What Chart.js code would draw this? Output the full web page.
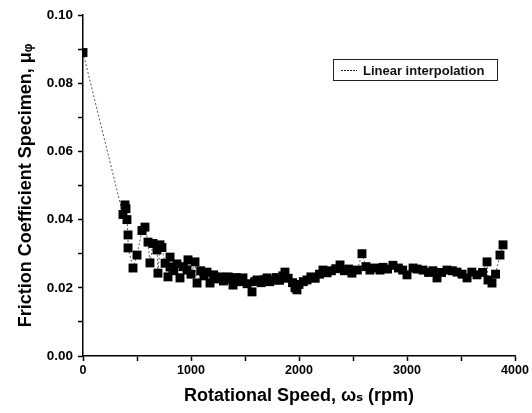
<!DOCTYPE html>
<html>
<head>
<meta charset="utf-8">
<script src="https://cdn.jsdelivr.net/npm/chart.js@4.4.0/dist/chart.umd.min.js"></script>
<style>
  body { margin: 0; background: #fff; }
  #wrap { width: 532px; height: 413px; }
</style>
</head>
<body>
<div id="wrap"><canvas id="Chart" width="532" height="413"></canvas></div>
<script>
// rotational speed (rpm) and friction coefficient
var rpm = [0, 370, 389, 398, 407, 417, 417, 463, 500, 546, 574, 602, 620, 648, 685, 694, 713, 731, 760, 787,
    806, 806, 840, 870, 898, 930, 963, 972, 1000, 1037, 1056, 1090, 1120, 1148, 1176, 1210, 1240, 1269, 1300, 1343,
    1370, 1389, 1420, 1450, 1481, 1520, 1565, 1590, 1611, 1650, 1680, 1704, 1730, 1759, 1790, 1820, 1850, 1870, 1900, 1940,
    1963, 1981, 2000, 2040, 2074, 2110, 2150, 2190, 2222, 2260, 2300, 2340, 2380, 2420, 2460, 2490, 2540, 2583, 2620, 2657,
    2700, 2750, 2778, 2820, 2870, 2920, 2960, 3000, 3056, 3093, 3148, 3200, 3240, 3278, 3320, 3370, 3420, 3463, 3510, 3556,
    3600, 3648, 3700, 3741, 3750, 3787, 3820, 3861, 3889];
var mu = [0.0890, 0.0415, 0.0443, 0.0432, 0.0400, 0.0355, 0.0317, 0.0258, 0.0296, 0.0368, 0.0378, 0.0334, 0.0273, 0.0330, 0.0311, 0.0243, 0.0326, 0.0318, 0.0272, 0.0232,
    0.0290, 0.0261, 0.0250, 0.0270, 0.0229, 0.0262, 0.0252, 0.0282, 0.0240, 0.0276, 0.0214, 0.0250, 0.0235, 0.0246, 0.0214, 0.0238, 0.0226, 0.0232, 0.0220, 0.0232,
    0.0225, 0.0208, 0.0230, 0.0218, 0.0229, 0.0212, 0.0188, 0.0218, 0.0223, 0.0215, 0.0224, 0.0229, 0.0218, 0.0223, 0.0230, 0.0222, 0.0235, 0.0246, 0.0228, 0.0215,
    0.0200, 0.0194, 0.0210, 0.0218, 0.0223, 0.0232, 0.0228, 0.0240, 0.0252, 0.0244, 0.0250, 0.0256, 0.0267, 0.0250, 0.0255, 0.0243, 0.0252, 0.0300, 0.0262, 0.0252,
    0.0258, 0.0252, 0.0260, 0.0255, 0.0266, 0.0258, 0.0252, 0.0238, 0.0258, 0.0255, 0.0252, 0.0245, 0.0250, 0.0229, 0.0245, 0.0252, 0.0250, 0.0246, 0.0240, 0.0229,
    0.0246, 0.0238, 0.0245, 0.0276, 0.0223, 0.0214, 0.0240, 0.0296, 0.0326];

var points = rpm.map(function(x, i) { return { x: x, y: mu[i] }; });

var fontFam = '"Liberation Sans", Arial, "DejaVu Sans", sans-serif';

// boxed legend in the upper right, like the original figure
var boxLegend = {
    id: 'boxLegend',
    afterDraw: function(chart) {
        var c = chart.ctx;
        var x0 = 333, y0 = 59, w = 164, h = 21;
        c.save();
        c.strokeStyle = '#222';
        c.lineWidth = 1;
        c.strokeRect(x0 + 0.5, y0 + 0.5, w, h);
        c.setLineDash([2, 1]);
        c.beginPath();
        c.moveTo(x0 + 8, y0 + 11.5);
        c.lineTo(x0 + 24, y0 + 11.5);
        c.stroke();
        c.setLineDash([]);
        c.fillStyle = '#111';
        c.font = 'bold 13px ' + fontFam;
        c.textBaseline = 'middle';
        c.fillText(chart.data.datasets[0].label, x0 + 30, y0 + 12);
        c.restore();
    }
};

const ctx = document.getElementById('Chart');
var myChart = new Chart(ctx, {
    type: 'scatter',
    data: {
        datasets: [{
            label: 'Linear interpolation',
            data: points,
            showLine: true,
            borderColor: '#555',
            borderWidth: 1,
            borderDash: [2, 2],
            tension: 0,
            pointStyle: 'rect',
            pointRadius: 6.3,
            pointBackgroundColor: '#000',
            pointBorderColor: '#000',
            pointBorderWidth: 0
        }]
    },
    options: {
        responsive: false,
        animation: false,
        layout: { padding: { top: 15, right: 17, left: 0, bottom: 0 } },
        plugins: {
            legend: { display: false },
            tooltip: { enabled: false }
        },
        scales: {
            x: {
                type: 'linear',
                min: 0,
                max: 4000,
                afterFit: function(scale) { scale.height = 57; },
                ticks: {
                    stepSize: 500,
                    autoSkip: false,
                    maxRotation: 0,
                    color: '#000',
                    padding: 2,
                    font: { family: fontFam, size: 12.5, weight: 'bold' },
                    callback: function(v) { return v % 1000 === 0 ? String(v) : ''; }
                },
                grid: {
                    drawOnChartArea: false,
                    tickLength: 5,
                    tickColor: '#000',
                    tickWidth: 1.5
                },
                border: { display: true, color: '#000', width: 1.5 },
                title: {
                    display: true,
                    text: 'Rotational Speed, \u03c9\u209b (rpm)',
                    color: '#000',
                    font: { family: fontFam, size: 18, weight: 'bold' },
                    padding: { top: 0, bottom: 6 }
                }
            },
            y: {
                min: 0,
                max: 0.1,
                afterFit: function(scale) { scale.width = 83; },
                ticks: {
                    stepSize: 0.01,
                    autoSkip: false,
                    color: '#000',
                    padding: 5,
                    font: { family: fontFam, size: 13.5, weight: 'bold' },
                    callback: function(v) {
                        var k = Math.round(v * 100);
                        return k % 2 === 0 ? v.toFixed(2) : '';
                    }
                },
                grid: {
                    drawOnChartArea: false,
                    tickLength: 5,
                    tickColor: '#000',
                    tickWidth: 1.5
                },
                border: { display: true, color: '#000', width: 1.5 },
                title: {
                    display: true,
                    text: 'Friction Coefficient Specimen, \u03bc\u1d69',
                    color: '#000',
                    font: { family: fontFam, size: 18, weight: 'bold' },
                    padding: { top: 15, bottom: 0 }
                }
            }
        }
    },
    plugins: [boxLegend]
});
</script>
</body>
</html>
